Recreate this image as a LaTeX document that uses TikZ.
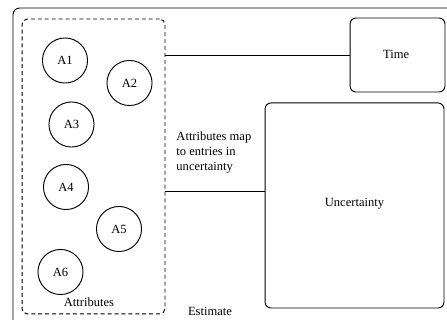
\documentclass[tikz,border=0pt]{standalone}
\usepackage{fontspec}
\setmainfont{Liberation Serif}
\begin{document}
\begin{tikzpicture}[x=0.75pt, y=-0.75pt, line width=0.7pt,
	font=\fontsize{9.4}{11.3}\selectfont]
	\tikzset{
		attr/.style={draw, circle, inner sep=0pt, minimum size=33.8pt},
		box/.style={draw, rounded corners=4.5pt, inner sep=0pt},
		label/.style={inner sep=0pt}
	}
	\useasboundingbox (0,0) rectangle (447,320);
	\clip (0,0) rectangle (447,320);
	%frame
	\draw[rounded corners=5pt] (13,8) rectangle (470,345);
	%attributes
	\node[box, dashed, dash pattern=on 3pt off 2.2pt, rounded corners=4pt,
	minimum width=107.2pt, minimum height=221.2pt] (attrs) at (93.5,166.5) {};
	\node[attr] (a1) at (65,60.5) {A1};
	\node[attr] (a2) at (129.5,83) {A2};
	\node[attr] (a3) at (71.5,124.5) {A3};
	\node[attr] (a4) at (66,187) {A4};
	\node[attr] (a5) at (119,229) {A5};
	\node[attr] (a6) at (60.5,272) {A6};
	\node[label] (attrlabel) at (89,302) {Attributes};
	%targets
	\node[box, minimum width=71.2pt, minimum height=55.5pt] (time) at (397.5,55)
	{\hspace*{-2pt}\raisebox{1.5pt}{Time}};
	\node[box, minimum width=134.2pt, minimum height=153.8pt] (unc) at (354.5,205.5)
	{\raisebox{4pt}{Uncertainty}};
	%links
	\coordinate (mapy) at (0,191);
	\draw (time.west) -- (time.west -| attrs.east);
	\draw (attrs.east |- mapy) -- (unc.west |- mapy);
	\node[label, anchor=north west, align=left] (maplabel) at (176,131)
	{Attributes map\\to entries in\\uncertainty};
	\node[label] (estimate) at (210,311) {Estimate};
\end{tikzpicture}
\end{document}
